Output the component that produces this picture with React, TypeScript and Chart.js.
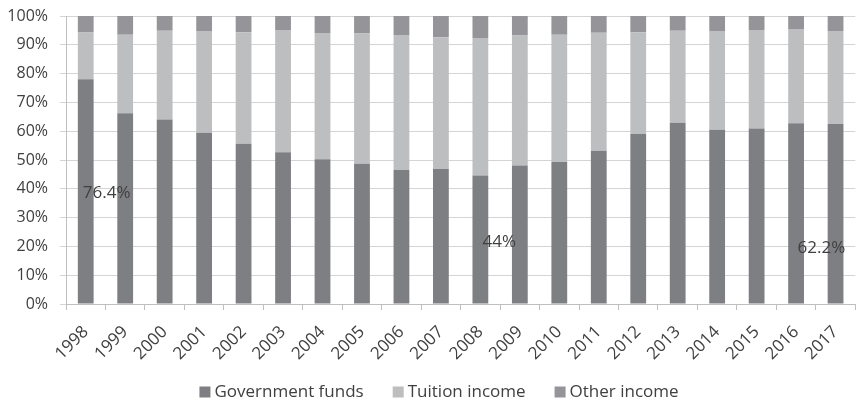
import React, { useEffect, useRef } from "react";
import { Chart, registerables } from "chart.js";

Chart.register(...registerables);

const years = ["1998","1999","2000","2001","2002","2003","2004","2005","2006","2007","2008","2009","2010","2011","2012","2013","2014","2015","2016","2017"];
const governmentFunds = [78.0, 66.2, 64.1, 59.5, 55.6, 52.7, 50.3, 48.7, 46.5, 46.9, 44.6, 48.1, 49.3, 53.2, 59.0, 62.9, 60.5, 60.9, 62.8, 62.5];
const tuitionIncome = [16.3, 27.3, 30.8, 35.3, 38.8, 42.4, 43.8, 45.2, 46.9, 45.7, 47.8, 45.1, 44.2, 41.0, 35.4, 32.0, 34.3, 34.2, 32.7, 32.3];
const otherIncome = [5.7, 6.5, 5.1, 5.2, 5.6, 4.9, 5.9, 6.1, 6.6, 7.4, 7.6, 6.8, 6.5, 5.8, 5.6, 5.1, 5.2, 4.9, 4.5, 5.2];
const yTicks = [0, 10, 20, 30, 40, 50, 60, 70, 80, 90, 100];

// data labels: category index shift and y value where the text sits
const labelTexts = ["76.4%", "44%", "62.2%"];
const labelCategories = ["1998", "2008", "2017"];
const labelShift = [0.53, 0.48, -0.36];
const labelY = [38.5, 21.6, 19.4];

const FONT = "'Open Sans', sans-serif";
const TEXT = "#404040";

export default function App() {
  const ref = useRef<HTMLCanvasElement | null>(null);
  useEffect(() => {
    document.body.style.margin = "0";
    const canvas = ref.current;
    if (!canvas) return;
    const labelPlugin = {
      id: "manualLabels",
      afterDatasetsDraw(chart: any) {
        const { ctx, scales } = chart;
        ctx.save();
        ctx.font = `17px ${FONT}`;
        ctx.fillStyle = TEXT;
        ctx.textAlign = "center";
        ctx.textBaseline = "middle";
        labelTexts.forEach((t, i) => {
          const idx = years.indexOf(labelCategories[i]);
          const x = scales.x.getPixelForValue(idx + labelShift[i]);
          const y = scales.y.getPixelForValue(labelY[i]);
          ctx.fillText(t, x, y);
        });
        ctx.restore();
      },
    };
    const legendPlugin = {
      id: "bottomLegend",
      afterDraw(chart: any) {
        const { ctx } = chart;
        const box = 11;
        const gap = 4;
        const spacing = 29;
        const cy = 392;
        ctx.save();
        ctx.font = `17px ${FONT}`;
        ctx.textBaseline = "middle";
        ctx.textAlign = "left";
        const items = chart.data.datasets.map((d: any) => ({
          label: d.label,
          color: d.backgroundColor,
          w: ctx.measureText(d.label).width,
        }));
        const total = items.reduce((s: number, it: any) => s + box + gap + it.w, 0) + spacing * (items.length - 1);
        let x = 439 - total / 2;
        items.forEach((it: any) => {
          ctx.fillStyle = it.color;
          ctx.fillRect(x, cy - box / 2, box, box);
          ctx.fillStyle = TEXT;
          ctx.fillText(it.label, x + box + gap, cy);
          x += box + gap + it.w + spacing;
        });
        ctx.restore();
      },
    };
    const chart = new Chart(canvas, {
      type: "bar",
      data: {
        labels: years,
        datasets: [
          { label: "Government funds", data: governmentFunds, backgroundColor: "#7e7f83" },
          { label: "Tuition income", data: tuitionIncome, backgroundColor: "#bdbec0" },
          { label: "Other income", data: otherIncome, backgroundColor: "#959599" },
        ],
      },
      options: {
        responsive: false,
        animation: false,
        devicePixelRatio: 1,
        layout: { padding: { top: 16, left: 0, right: 1, bottom: 0 } },
        datasets: { bar: { barPercentage: 0.4, categoryPercentage: 1 } },
        plugins: {
          legend: { display: false },
          tooltip: { enabled: false },
        },
        scales: {
          x: {
            stacked: true,
            afterFit: (s: any) => { s.height = 97; },
            grid: {
              display: true,
              drawOnChartArea: false,
              drawTicks: true,
              tickLength: 6,
              color: "#bfbfbf",
              offset: true,
            },
            border: { color: "#bfbfbf" },
            ticks: {
              minRotation: 45,
              maxRotation: 45,
              autoSkip: false,
              color: TEXT,
              font: { family: FONT, size: 17 },
              padding: 12,
            },
          },
          y: {
            stacked: true,
            min: 0,
            max: 100,
            afterFit: (s: any) => { s.width = 66; },
            afterBuildTicks: (s: any) => { s.ticks = yTicks.map((v) => ({ value: v })); },
            grid: { color: "#d4d4d4", tickLength: 6 },
            border: { color: "#bfbfbf" },
            ticks: {
              color: TEXT,
              font: { family: FONT, size: 16, lineHeight: 0.45 },
              padding: 12,
              callback: (v: any) => `${v}%`,
            },
          },
        },
      },
      plugins: [labelPlugin, legendPlugin],
    });
    return () => chart.destroy();
  }, []);
  return <canvas ref={ref} width={862} height={401} style={{ display: "block" }} />;
}
